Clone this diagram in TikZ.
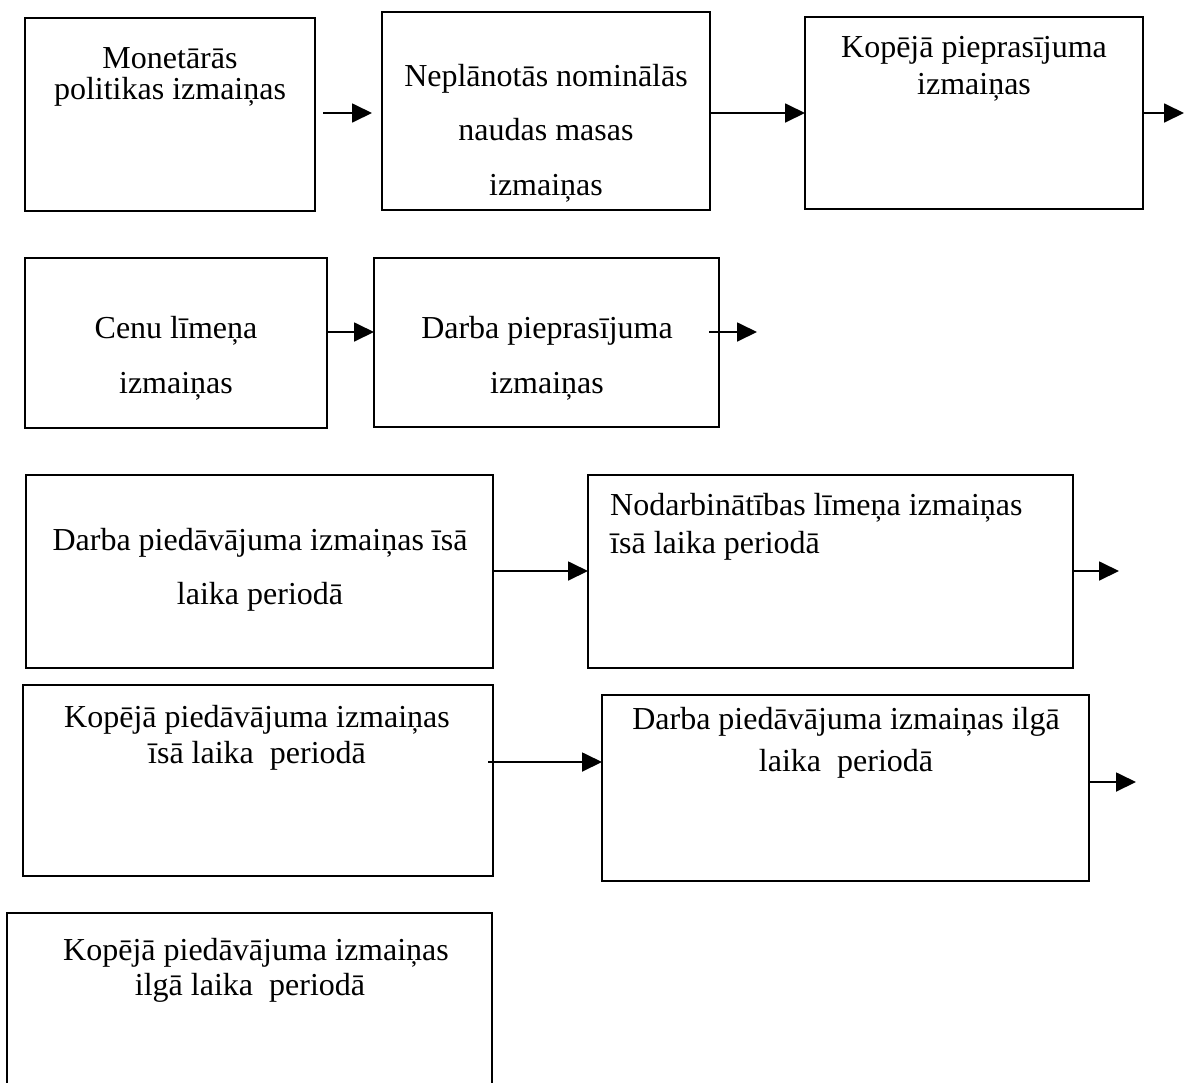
\documentclass[tikz,border=0pt]{standalone}
\usepackage{fontspec}
\setmainfont{Liberation Serif}
\usetikzlibrary{arrows.meta}
\begin{document}
\begin{tikzpicture}[x=1pt,y=-1pt,
  blok/.style={draw, line width=1.8pt, inner sep=0pt, outer sep=0pt, anchor=north west},
  rinda/.style={anchor=base, inner sep=0pt, font=\fontsize{32}{37}\selectfont},
  rindakr/.style={rinda, anchor=base west},
  bulta/.style={-{Triangle[length=20pt,width=19pt]}, line width=1.8pt}]
\useasboundingbox (0,0) rectangle (1185,1082);
\clip (0,0) rectangle (1185,1082);

% levels of the horizontal arrows
\coordinate (r1) at (0,113);
\coordinate (r2) at (0,332);
\coordinate (r3) at (0,571);
\coordinate (r4) at (0,762);
\coordinate (r5) at (0,782);

% first row
\node[blok, minimum width=290pt, minimum height=193pt] (b1) at (25,18) {};
\node[rinda] (t1a) at (170,68) {Monetārās};
\node[rinda] (t1b) at (170,99) {politikas izmaiņas};

\node[blok, minimum width=328pt, minimum height=198pt] (b2) at (382,12) {};
\node[rinda] (t2a) at (546,86) {Neplānotās nominālās};
\node[rinda] (t2b) at (546,140) {naudas masas};
\node[rinda] (t2c) at (546,195) {izmaiņas};

\node[blok, minimum width=338pt, minimum height=192pt] (b3) at (805,17) {};
\node[rinda] (t3a) at (974,57) {Kopējā pieprasījuma};
\node[rinda] (t3b) at (974,94) {izmaiņas};

% second row
\node[blok, minimum width=302pt, minimum height=170pt] (b4) at (25,258) {};
\node[rinda] (t4a) at (176,338) {Cenu līmeņa};
\node[rinda] (t4b) at (176,393) {izmaiņas};

\node[blok, minimum width=345pt, minimum height=169pt] (b5) at (374,258) {};
\node[rinda] (t5a) at (547,338) {Darba pieprasījuma};
\node[rinda] (t5b) at (547,393) {izmaiņas};

% third row
\node[blok, minimum width=467pt, minimum height=193pt] (b6) at (26,475) {};
\node[rinda] (t6a) at (260,550) {Darba piedāvājuma izmaiņas īsā};
\node[rinda] (t6b) at (260,604) {laika periodā};

\node[blok, minimum width=485pt, minimum height=193pt] (b7) at (588,475) {};
\node[rindakr] (t7a) at (610,515) {Nodarbinātības līmeņa izmaiņas};
\node[rindakr] (t7b) at (610,553) {īsā laika periodā};

% fourth row
\node[blok, minimum width=470pt, minimum height=191pt] (b8) at (23,685) {};
\node[rinda] (t8a) at (257,727) {Kopējā piedāvājuma izmaiņas};
\node[rinda] (t8b) at (257,763) {īsā laika~~periodā};

\node[blok, minimum width=487pt, minimum height=186pt] (b9) at (602,695) {};
\node[rinda] (t9a) at (846,729) {Darba piedāvājuma izmaiņas ilgā};
\node[rinda] (t9b) at (846,771) {laika~~periodā};

% fifth row, running past the lower edge
\node[blok, minimum width=485pt, minimum height=220pt] (b10) at (7,913) {};
\node[rinda] (t10a) at (256,960) {Kopējā piedāvājuma izmaiņas};
\node[rinda] (t10b) at (250,995) {ilgā laika~~periodā};

% loose arrow ends
\coordinate (e3) at (1184,113);
\coordinate (e5) at (757,332);
\coordinate (e7) at (1119,571);
\coordinate (e9) at (1136,782);

% arrows
\draw[bulta, shorten <=8pt, shorten >=10pt] (b1.east |- r1) -- (b2.west |- r1);
\draw[bulta] (b2.east |- r1) -- (b3.west |- r1);
\draw[bulta] (b3.east |- r1) -- (e3);
\draw[bulta] (b4.east |- r2) -- (b5.west |- r2);
\draw[bulta] ([xshift=-10pt]b5.east |- r2) -- (e5);
\draw[bulta] (b6.east |- r3) -- (b7.west |- r3);
\draw[bulta] (b7.east |- r3) -- (e7);
\draw[bulta] ([xshift=-5pt]b8.east |- r4) -- (b9.west |- r4);
\draw[bulta] (b9.east |- r5) -- (e9);
\end{tikzpicture}
\end{document}
